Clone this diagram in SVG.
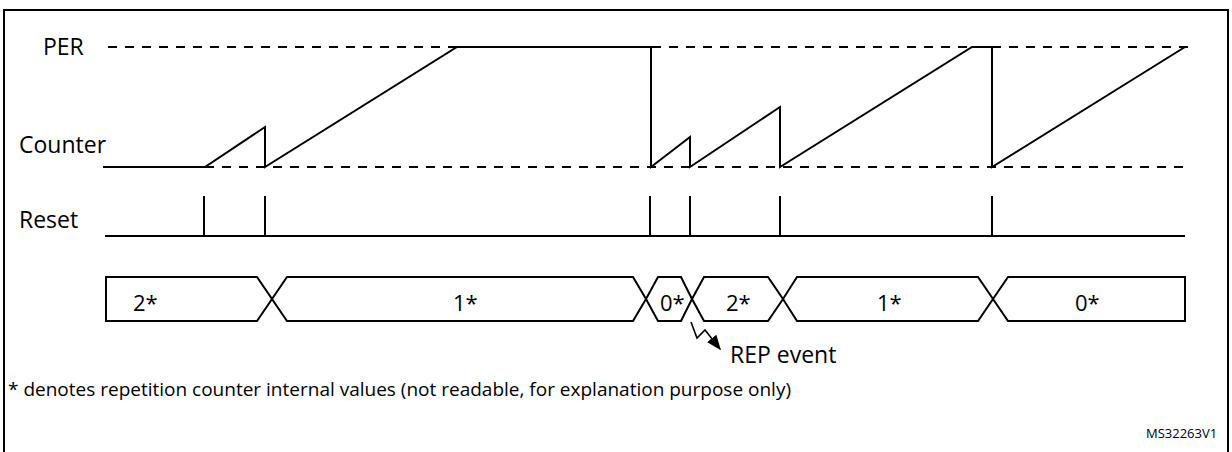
<svg xmlns="http://www.w3.org/2000/svg" width="1232" height="452" viewBox="0 0 1232 452">
<defs>
<style>
.lbl{font-family:"Open Sans","Liberation Sans",sans-serif;font-size:23px;fill:#000}
.bus{font-family:"Open Sans","Liberation Sans",sans-serif;font-size:22px;fill:#000}
.note{font-family:"Open Sans","Liberation Sans",sans-serif;font-size:19px;fill:#000}
.id{font-family:"Open Sans","Liberation Sans",sans-serif;font-size:13px;fill:#000}
.sig{fill:none;stroke:#000;stroke-width:2;stroke-linejoin:miter}
.dash{fill:none;stroke:#000;stroke-width:2;stroke-dasharray:9 8}
.seg{fill:#fff;stroke:#000;stroke-width:2;stroke-linejoin:miter}
.zz{fill:none;stroke:#000;stroke-width:1.6}
</style>
<marker id="arr" viewBox="0 0 10 10" refX="9" refY="5" markerWidth="15" markerHeight="15" orient="auto" markerUnits="userSpaceOnUse">
<path d="M0,1 L10,5 L0,9 z" fill="#000"/>
</marker>
</defs>
<rect x="0" y="0" width="1232" height="452" fill="#fff"/>
<path d="M4,452 L4,10 L1228,10 L1228,452" fill="none" stroke="#000" stroke-width="2"/>

<g id="labels">
<text class="lbl" x="43" y="55">PER</text>
<text class="lbl" x="19" y="153">Counter</text>
<text class="lbl" x="19" y="228">Reset</text>
</g>

<g id="connectors">
<line class="dash" x1="108" y1="47" x2="1195" y2="47"/>
<line class="dash" x1="205" y1="167" x2="1185" y2="167"/>
<path class="sig" d="M103,167 L205,167 L265,127 L265,167 L457,47 L651,47 L651,167 L690,137 L690,167 L780,107 L780,167 L972,47 L992,47 L992,167 L1185,47"/>
<path class="sig" d="M105,236 L1185,236 M204,196 L204,236 M265,196 L265,236 M650,196 L650,236 M690,196 L690,236 M780,196 L780,236 M992,196 L992,236"/>
<path class="zz" d="M691,322 L697,338 L705,330 L720,349" marker-end="url(#arr)"/>
</g>

<g id="seg1">
<polygon class="seg" points="106,277 257,277 272,299 257,321 106,321"/>
<text class="bus" x="133" y="311">2*</text>
</g>
<g id="seg2">
<polygon class="seg" points="272,299 287,277 633,277 646,299 633,321 287,321"/>
<text class="bus" x="453" y="311">1*</text>
</g>
<g id="seg3">
<polygon class="seg" points="646,299 658,277 681,277 692,299 681,321 658,321"/>
<text class="bus" x="660" y="311">0*</text>
</g>
<g id="seg4">
<polygon class="seg" points="692,299 704,277 768,277 783,299 768,321 704,321"/>
<text class="bus" x="726" y="311">2*</text>
</g>
<g id="seg5">
<polygon class="seg" points="783,299 797,277 978,277 993,299 978,321 797,321"/>
<text class="bus" x="877" y="311">1*</text>
</g>
<g id="seg6">
<polygon class="seg" points="993,299 1008,277 1185,277 1185,321 1008,321"/>
<text class="bus" x="1075" y="311">0*</text>
</g>

<g id="rep">
<text class="lbl" x="730" y="363">REP event</text>
</g>

<g id="notes">
<text class="note" x="8" y="396">* denotes repetition counter internal values (not readable, for explanation purpose only)</text>
<text class="id" x="1146" y="438">MS32263V1</text>
</g>
</svg>
